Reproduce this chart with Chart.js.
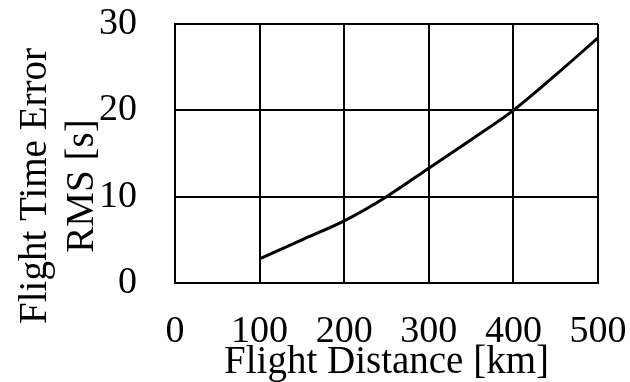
<!DOCTYPE html>
<html>
<head>
<meta charset="utf-8">
<script src="https://cdn.jsdelivr.net/npm/chart.js@4/dist/chart.umd.min.js"></script>
<style>
  html, body { margin: 0; padding: 0; background: #fff; }
  #wrap { width: 630px; height: 382px; }
</style>
</head>
<body>
<div id="wrap"><canvas id="chart"></canvas></div>
<script>
const distances = [100, 150, 200, 250, 300, 350, 400, 450, 500];
const rmsError = [2.8, 5.0, 7.2, 10.0, 13.3, 16.6, 20.0, 24.1, 28.4];

const xTitle = 'Flight Distance [km]';
const yTitle = ['Flight Time Error', 'RMS [s]'];

const serif = "'Liberation Serif', 'Times New Roman', serif";

// y title drawn by hand, it sits lower than the plot centre
const yTitlePlugin = {
  id: 'yTitle',
  afterDraw(chart) {
    const ctx = chart.ctx;
    ctx.save();
    ctx.fillStyle = '#000';
    ctx.font = '39px ' + serif;
    ctx.textAlign = 'center';
    ctx.textBaseline = 'alphabetic';
    const xs = [46, 93];
    yTitle.forEach((line, i) => {
      ctx.save();
      ctx.translate(xs[i], 186);
      ctx.rotate(-Math.PI / 2);
      ctx.fillText(line, 0, 0);
      ctx.restore();
    });
    ctx.restore();
  },
};

new Chart(document.getElementById('chart'), {
  type: 'line',
  data: {
    datasets: [
      {
        data: distances.map((d, i) => ({ x: d, y: rmsError[i] })),
        borderColor: '#000',
        borderWidth: 3,
        pointRadius: 0,
        tension: 0.4,
        cubicInterpolationMode: 'monotone',
        fill: false,
      },
    ],
  },
  options: {
    responsive: true,
    maintainAspectRatio: false,
    animation: false,
    layout: {
      padding: { left: 99, right: 32, top: 24, bottom: 3 },
    },
    scales: {
      x: {
        type: 'linear',
        min: 0,
        max: 500,
        ticks: {
          stepSize: 100,
          color: '#000',
          padding: 34,
          maxRotation: 0,
          autoSkip: false,
          font: { family: serif, size: 38, lineHeight: 0.79 },
        },
        grid: { color: '#000', lineWidth: 2, drawTicks: false },
        border: { color: '#000', width: 2 },
        title: {
          display: true,
          text: xTitle,
          color: '#000',
          padding: { top: 0, bottom: 0 },
          font: { family: serif, size: 39, lineHeight: 0.84 },
        },
        // chart.js adds tick padding twice, so sizes are fixed here
        afterFit(s) {
          s.height = 96;
          s.paddingLeft = 0;
          s.paddingRight = 0;
        },
      },
      y: {
        min: 0,
        max: 30,
        ticks: {
          stepSize: 10,
          color: '#000',
          padding: 38,
          font: { family: serif, size: 38 },
        },
        grid: { color: '#000', lineWidth: 2, drawTicks: false },
        border: { color: '#000', width: 2 },
        afterFit(s) {
          s.width = 76;
          s.paddingTop = 0;
          s.paddingBottom = 0;
        },
      },
    },
    plugins: {
      legend: { display: false },
      tooltip: { enabled: false },
    },
  },
  plugins: [yTitlePlugin],
});
</script>
</body>
</html>
